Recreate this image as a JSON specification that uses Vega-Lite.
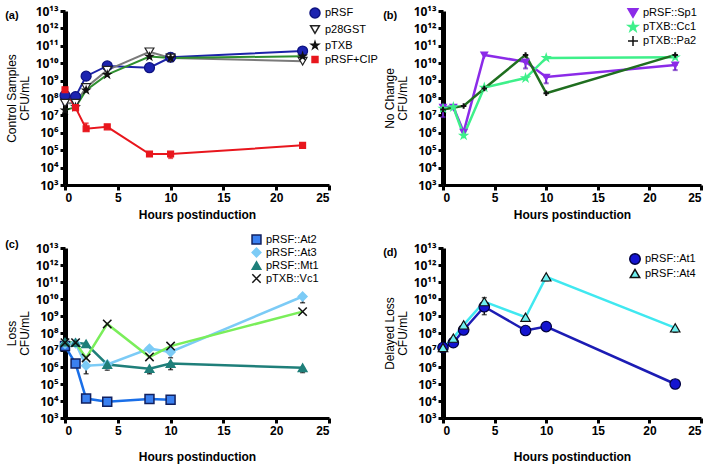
{
"$schema":"https://vega.github.io/schema/vega-lite/v6.json",
"background":"white",
"padding":5,
"datasets":{"d":[
{"p":"a","s":"pRSF","x":0,"y":1.4e8,"lo":4.5e7,"hi":1.4e8},
{"p":"a","s":"pRSF","x":1,"y":1.2e8,"lo":4.5e7,"hi":1.2e8},
{"p":"a","s":"pRSF","x":2,"y":1.8e9},
{"p":"a","s":"pRSF","x":4,"y":7e9},
{"p":"a","s":"pRSF","x":8,"y":5.5e9},
{"p":"a","s":"pRSF","x":10,"y":2.2e10},
{"p":"a","s":"pRSF","x":22.5,"y":5e10,"lo":2.2e10,"hi":5e10},
{"p":"a","s":"p28GST","x":0,"y":5e7},
{"p":"a","s":"p28GST","x":1,"y":5e7},
{"p":"a","s":"p28GST","x":2,"y":4e8},
{"p":"a","s":"p28GST","x":4,"y":4e9},
{"p":"a","s":"p28GST","x":8,"y":4.5e10},
{"p":"a","s":"p28GST","x":10,"y":2e10},
{"p":"a","s":"p28GST","x":22.5,"y":1.3e10},
{"p":"a","s":"pTXB","x":0,"y":2e7},
{"p":"a","s":"pTXB","x":1,"y":3e7},
{"p":"a","s":"pTXB","x":2,"y":2.8e8},
{"p":"a","s":"pTXB","x":4,"y":2.2e9},
{"p":"a","s":"pTXB","x":8,"y":2.4e10},
{"p":"a","s":"pTXB","x":10,"y":2e10},
{"p":"a","s":"pTXB","x":22.5,"y":2.5e10},
{"p":"a","s":"pRSF+CIP","x":0,"y":3e8},
{"p":"a","s":"pRSF+CIP","x":1,"y":2.8e7},
{"p":"a","s":"pRSF+CIP","x":2,"y":1.7e6,"lo":1.7e6,"hi":3.5e6},
{"p":"a","s":"pRSF+CIP","x":4,"y":2.2e6},
{"p":"a","s":"pRSF+CIP","x":8,"y":6e4},
{"p":"a","s":"pRSF+CIP","x":10,"y":6e4,"lo":3.5e4,"hi":6e4},
{"p":"a","s":"pRSF+CIP","x":22.5,"y":1.9e5},
{"p":"b","s":"pRSF::Sp1","x":0,"y":3e7},
{"p":"b","s":"pRSF::Sp1","x":1,"y":3e7},
{"p":"b","s":"pRSF::Sp1","x":2,"y":1.1e6},
{"p":"b","s":"pRSF::Sp1","x":4,"y":3e10},
{"p":"b","s":"pRSF::Sp1","x":8,"y":1.2e10,"lo":5e9,"hi":1.2e10},
{"p":"b","s":"pRSF::Sp1","x":10,"y":1.6e9,"lo":7e8,"hi":1.6e9},
{"p":"b","s":"pRSF::Sp1","x":22.5,"y":8e9,"lo":4e9,"hi":8e9},
{"p":"b","s":"pTXB::Cc1","x":0,"y":2.5e7},
{"p":"b","s":"pTXB::Cc1","x":1,"y":3e7},
{"p":"b","s":"pTXB::Cc1","x":2,"y":7e5},
{"p":"b","s":"pTXB::Cc1","x":4,"y":4e8},
{"p":"b","s":"pTXB::Cc1","x":8,"y":1.4e9},
{"p":"b","s":"pTXB::Cc1","x":10,"y":2e10},
{"p":"b","s":"pTXB::Cc1","x":22.5,"y":2.2e10},
{"p":"b","s":"pTXB::Pa2","x":0,"y":2.2e7,"lo":8e6,"hi":2.2e7},
{"p":"b","s":"pTXB::Pa2","x":2,"y":3.5e7},
{"p":"b","s":"pTXB::Pa2","x":4,"y":3.5e8},
{"p":"b","s":"pTXB::Pa2","x":8,"y":3e10},
{"p":"b","s":"pTXB::Pa2","x":10,"y":1.9e8},
{"p":"b","s":"pTXB::Pa2","x":22.5,"y":3e10},
{"p":"c","s":"pRSF::At2","x":0,"y":1.7e7},
{"p":"c","s":"pRSF::At2","x":1,"y":1.6e6},
{"p":"c","s":"pRSF::At2","x":2,"y":1.4e4},
{"p":"c","s":"pRSF::At2","x":4,"y":9e3},
{"p":"c","s":"pRSF::At2","x":8,"y":1.3e4},
{"p":"c","s":"pRSF::At2","x":10,"y":1.2e4},
{"p":"c","s":"pRSF::At3","x":0,"y":2.3e7},
{"p":"c","s":"pRSF::At3","x":1,"y":2.5e7},
{"p":"c","s":"pRSF::At3","x":2,"y":1.2e6,"lo":4e5,"hi":1.2e6},
{"p":"c","s":"pRSF::At3","x":4,"y":1.4e6},
{"p":"c","s":"pRSF::At3","x":8,"y":1.2e7},
{"p":"c","s":"pRSF::At3","x":10,"y":7.6e6,"lo":3.5e6,"hi":7.6e6},
{"p":"c","s":"pRSF::At3","x":22.5,"y":1.4e10,"lo":6e9,"hi":1.4e10},
{"p":"c","s":"pRSF::Mt1","x":0,"y":2.9e7},
{"p":"c","s":"pRSF::Mt1","x":1,"y":2.7e7},
{"p":"c","s":"pRSF::Mt1","x":2,"y":2.3e7},
{"p":"c","s":"pRSF::Mt1","x":4,"y":1.4e6,"lo":6.5e5,"hi":1.4e6},
{"p":"c","s":"pRSF::Mt1","x":8,"y":8e5,"lo":4e5,"hi":8e5},
{"p":"c","s":"pRSF::Mt1","x":10,"y":1.6e6,"lo":7e5,"hi":1.6e6},
{"p":"c","s":"pRSF::Mt1","x":22.5,"y":9e5,"lo":4.7e5,"hi":9e5},
{"p":"c","s":"pTXB::Vc1","x":0,"y":2.7e7},
{"p":"c","s":"pTXB::Vc1","x":1,"y":2.7e7},
{"p":"c","s":"pTXB::Vc1","x":2,"y":3.4e6},
{"p":"c","s":"pTXB::Vc1","x":4,"y":3.4e8},
{"p":"c","s":"pTXB::Vc1","x":8,"y":3.9e6},
{"p":"c","s":"pTXB::Vc1","x":10,"y":1.7e7},
{"p":"c","s":"pTXB::Vc1","x":22.5,"y":1.8e9},
{"p":"d","s":"pRSF::At1","x":0,"y":1.4e7},
{"p":"d","s":"pRSF::At1","x":1,"y":2.7e7},
{"p":"d","s":"pRSF::At1","x":2,"y":1.5e8},
{"p":"d","s":"pRSF::At1","x":4,"y":3.5e9,"lo":1.2e9,"hi":1.2e10},
{"p":"d","s":"pRSF::At1","x":8,"y":1.4e8},
{"p":"d","s":"pRSF::At1","x":10,"y":2.4e8},
{"p":"d","s":"pRSF::At1","x":22.5,"y":1e5},
{"p":"d","s":"pRSF::At4","x":0,"y":1.4e7},
{"p":"d","s":"pRSF::At4","x":1,"y":5e7},
{"p":"d","s":"pRSF::At4","x":2,"y":3e8},
{"p":"d","s":"pRSF::At4","x":4,"y":7e9},
{"p":"d","s":"pRSF::At4","x":8,"y":8.5e8},
{"p":"d","s":"pRSF::At4","x":10,"y":2e11,"lo":1.2e11,"hi":2e11},
{"p":"d","s":"pRSF::At4","x":22.5,"y":2e8,"lo":1.1e8,"hi":2e8}
]},
"columns":2,
"spacing":{"column":5,"row":14},
"resolve":{"scale":{"color":"independent","fill":"independent","stroke":"independent","shape":"independent","size":"independent"}},
"concat":[
{
"title":{"text":"(a)","offset":-16},
"width":264,"height":174,
"data":{"name":"d"},
"transform":[{"filter":"datum.p=='a'"}],
"encoding":{
 "x":{"field":"x","type":"quantitative","scale":{"domain":[0,25],"nice":false},"axis":{"values":[0,5,10,15,20,25],"title":"Hours postinduction"}},
 "y":{"field":"y","type":"quantitative","scale":{"type":"log","domain":[1000,1e13],"nice":false},"title":["Control Samples","CFU/mL"],"axis":{"values":[1e3,1e4,1e5,1e6,1e7,1e8,1e9,1e10,1e11,1e12,1e13],"labelExpr":"'10' + (round(log(datum.value)/LN10) >= 10 ? '¹' + substring('⁰¹²³⁴⁵⁶⁷⁸⁹', round(log(datum.value)/LN10) - 10, round(log(datum.value)/LN10) - 9) : substring('⁰¹²³⁴⁵⁶⁷⁸⁹', round(log(datum.value)/LN10), round(log(datum.value)/LN10) + 1))"}}
},
"layer":[
 {"mark":{"type":"line","strokeWidth":2,"clip":false},"encoding":{"color":{"field":"s","type":"nominal","scale":{"range":["#7a7a7a","#1c23a8","#e8161d","#2f8f2f"]},"legend":null}}},
 {"transform":[{"filter":"isValid(datum.lo)"}],"mark":{"type":"errorbar","ticks":true,"thickness":2},"encoding":{"y":{"field":"lo","type":"quantitative","title":["Control Samples","CFU/mL"]},"y2":{"field":"hi"},"color":{"field":"s","type":"nominal","legend":null}}},
 {"mark":{"type":"point","filled":true,"opacity":1,"strokeWidth":1.2,"clip":false},"encoding":{
   "fill":{"field":"s","type":"nominal","scale":{"domain":["pRSF","p28GST","pTXB","pRSF+CIP"],"range":["#1c23b0","#ffffff","#111111","#e8161d"]},"legend":{"title":null,"orient":"none","legendX":244,"legendY":-4,"rowPadding":1}},
   "stroke":{"field":"s","type":"nominal","scale":{"domain":["pRSF","p28GST","pTXB","pRSF+CIP"],"range":["#0d1280","#222222","#111111","#e8161d"]},"legend":{"title":null,"orient":"none","legendX":244,"legendY":-4,"rowPadding":1}},
   "shape":{"field":"s","type":"nominal","scale":{"domain":["pRSF","p28GST","pTXB","pRSF+CIP"],"range":["circle","triangle-down","M0,-1L0.2245,-0.309L0.951,-0.309L0.363,0.118L0.588,0.809L0,0.382L-0.588,0.809L-0.363,0.118L-0.951,-0.309L-0.2245,-0.309Z","square"]},"legend":{"title":null,"orient":"none","legendX":244,"legendY":-4,"rowPadding":1}},
   "size":{"field":"s","type":"nominal","scale":{"domain":["pRSF","p28GST","pTXB","pRSF+CIP"],"range":[100,35,45,55]},"legend":{"title":null,"orient":"none","legendX":244,"legendY":-4,"rowPadding":1}}
 }}
]
},
{
"title":{"text":"(b)","offset":-16},
"width":258,"height":174,
"data":{"name":"d"},
"transform":[{"filter":"datum.p=='b'"}],
"encoding":{
 "x":{"field":"x","type":"quantitative","scale":{"domain":[0,25],"nice":false},"axis":{"values":[0,5,10,15,20,25],"title":"Hours postinduction"}},
 "y":{"field":"y","type":"quantitative","scale":{"type":"log","domain":[1000,1e13],"nice":false},"title":["No Change","CFU/mL"],"axis":{"values":[1e3,1e4,1e5,1e6,1e7,1e8,1e9,1e10,1e11,1e12,1e13],"labelExpr":"'10' + (round(log(datum.value)/LN10) >= 10 ? '¹' + substring('⁰¹²³⁴⁵⁶⁷⁸⁹', round(log(datum.value)/LN10) - 10, round(log(datum.value)/LN10) - 9) : substring('⁰¹²³⁴⁵⁶⁷⁸⁹', round(log(datum.value)/LN10), round(log(datum.value)/LN10) + 1))"}}
},
"layer":[
 {"mark":{"type":"line","strokeWidth":2.5,"clip":false},"encoding":{"color":{"field":"s","type":"nominal","scale":{"range":["#8b2be8","#3ef08a","#1f6e1f"]},"legend":null}}},
 {"transform":[{"filter":"isValid(datum.lo)"}],"mark":{"type":"errorbar","ticks":true,"thickness":2,"color":"#6a20c0"},"encoding":{"y":{"field":"lo","type":"quantitative","title":["No Change","CFU/mL"]},"y2":{"field":"hi"}}},
 {"mark":{"type":"point","filled":true,"opacity":1,"strokeWidth":2,"clip":false},"encoding":{
   "fill":{"field":"s","type":"nominal","scale":{"domain":["pRSF::Sp1","pTXB::Cc1","pTXB::Pa2"],"range":["#8b2be8","#3ef08a","#111111"]},"legend":{"title":null,"orient":"none","legendX":184,"legendY":-4,"rowPadding":-3}},
   "stroke":{"field":"s","type":"nominal","scale":{"domain":["pRSF::Sp1","pTXB::Cc1","pTXB::Pa2"],"range":["#8b2be8","#3ef08a","#111111"]},"legend":{"title":null,"orient":"none","legendX":184,"legendY":-4,"rowPadding":-3}},
   "shape":{"field":"s","type":"nominal","scale":{"domain":["pRSF::Sp1","pTXB::Cc1","pTXB::Pa2"],"range":["triangle-down","M0,-1L0.2245,-0.309L0.951,-0.309L0.363,0.118L0.588,0.809L0,0.382L-0.588,0.809L-0.363,0.118L-0.951,-0.309L-0.2245,-0.309Z","M-1,0L1,0M0,-1L0,1"]},"legend":{"title":null,"orient":"none","legendX":184,"legendY":-4,"rowPadding":-3}}
 }}
]
},
{
"title":{"text":"(c)","offset":-16},
"width":264,"height":170,
"data":{"name":"d"},
"transform":[{"filter":"datum.p=='c'"}],
"encoding":{
 "x":{"field":"x","type":"quantitative","scale":{"domain":[0,25],"nice":false},"axis":{"values":[0,5,10,15,20,25],"title":"Hours postinduction","titlePadding":15}},
 "y":{"field":"y","type":"quantitative","scale":{"type":"log","domain":[1000,1e13],"nice":false},"title":["Loss","CFU/mL"],"axis":{"values":[1e3,1e4,1e5,1e6,1e7,1e8,1e9,1e10,1e11,1e12,1e13],"labelExpr":"'10' + (round(log(datum.value)/LN10) >= 10 ? '¹' + substring('⁰¹²³⁴⁵⁶⁷⁸⁹', round(log(datum.value)/LN10) - 10, round(log(datum.value)/LN10) - 9) : substring('⁰¹²³⁴⁵⁶⁷⁸⁹', round(log(datum.value)/LN10), round(log(datum.value)/LN10) + 1))"}}
},
"layer":[
 {"mark":{"type":"line","strokeWidth":2.5,"clip":false},"encoding":{"color":{"field":"s","type":"nominal","scale":{"range":["#1a6fe8","#7ccbf6","#1f7f7a","#7aee5a"]},"legend":null}}},
 {"transform":[{"filter":"isValid(datum.lo)"}],"mark":{"type":"errorbar","ticks":true,"thickness":1.5,"color":"#111111"},"encoding":{"y":{"field":"lo","type":"quantitative","title":["Loss","CFU/mL"]},"y2":{"field":"hi"}}},
 {"mark":{"type":"point","filled":true,"opacity":1,"strokeWidth":1.5,"clip":false},"encoding":{
   "fill":{"field":"s","type":"nominal","scale":{"domain":["pRSF::At2","pRSF::At3","pRSF::Mt1","pTXB::Vc1"],"range":["#3a80f0","#7ccbf6","#1f7f7a","#111111"]},"legend":{"title":null,"orient":"none","legendX":186,"legendY":-14,"rowPadding":-2}},
   "stroke":{"field":"s","type":"nominal","scale":{"domain":["pRSF::At2","pRSF::At3","pRSF::Mt1","pTXB::Vc1"],"range":["#102060","#7ccbf6","#1f7f7a","#111111"]},"legend":{"title":null,"orient":"none","legendX":186,"legendY":-14,"rowPadding":-2}},
   "shape":{"field":"s","type":"nominal","scale":{"domain":["pRSF::At2","pRSF::At3","pRSF::Mt1","pTXB::Vc1"],"range":["square","diamond","triangle-up","M-1,-1L1,1M1,-1L-1,1"]},"legend":{"title":null,"orient":"none","legendX":186,"legendY":-14,"rowPadding":-2}},
   "size":{"field":"s","type":"nominal","scale":{"domain":["pRSF::At2","pRSF::At3","pRSF::Mt1","pTXB::Vc1"],"range":[80,70,70,60]},"legend":{"title":null,"orient":"none","legendX":186,"legendY":-14,"rowPadding":-2}}
 }}
]
},
{
"title":{"text":"(d)","offset":-16},
"width":258,"height":170,
"data":{"name":"d"},
"transform":[{"filter":"datum.p=='d'"}],
"encoding":{
 "x":{"field":"x","type":"quantitative","scale":{"domain":[0,25],"nice":false},"axis":{"values":[0,5,10,15,20,25],"title":"Hours postinduction","titlePadding":15}},
 "y":{"field":"y","type":"quantitative","scale":{"type":"log","domain":[1000,1e13],"nice":false},"title":["Delayed Loss","CFU/mL"],"axis":{"values":[1e3,1e4,1e5,1e6,1e7,1e8,1e9,1e10,1e11,1e12,1e13],"labelExpr":"'10' + (round(log(datum.value)/LN10) >= 10 ? '¹' + substring('⁰¹²³⁴⁵⁶⁷⁸⁹', round(log(datum.value)/LN10) - 10, round(log(datum.value)/LN10) - 9) : substring('⁰¹²³⁴⁵⁶⁷⁸⁹', round(log(datum.value)/LN10), round(log(datum.value)/LN10) + 1))"}}
},
"layer":[
 {"mark":{"type":"line","strokeWidth":2.5,"clip":false},"encoding":{"color":{"field":"s","type":"nominal","scale":{"range":["#1c1cb4","#40e8f0"]},"legend":null}}},
 {"transform":[{"filter":"isValid(datum.lo)"}],"mark":{"type":"errorbar","ticks":true,"thickness":1.5,"color":"#111111"},"encoding":{"y":{"field":"lo","type":"quantitative","title":["Delayed Loss","CFU/mL"]},"y2":{"field":"hi"}}},
 {"mark":{"type":"point","filled":true,"opacity":1,"strokeWidth":1.2,"clip":false},"encoding":{
   "fill":{"field":"s","type":"nominal","scale":{"domain":["pRSF::At1","pRSF::At4"],"range":["#1414d0","#6ff0f0"]},"legend":{"title":null,"orient":"none","legendX":186,"legendY":5,"rowPadding":-2}},
   "stroke":{"field":"s","type":"nominal","scale":{"domain":["pRSF::At1","pRSF::At4"],"range":["#000040","#111111"]},"legend":{"title":null,"orient":"none","legendX":186,"legendY":5,"rowPadding":-2}},
   "shape":{"field":"s","type":"nominal","scale":{"domain":["pRSF::At1","pRSF::At4"],"range":["circle","triangle-up"]},"legend":{"title":null,"orient":"none","legendX":186,"legendY":5,"rowPadding":-2}},
   "size":{"field":"s","type":"nominal","scale":{"domain":["pRSF::At1","pRSF::At4"],"range":[110,90]},"legend":{"title":null,"orient":"none","legendX":186,"legendY":5,"rowPadding":-2}}
 }}
]
}
],
"config":{
 "font":"Liberation Sans",
 "view":{"stroke":null},
 "axis":{"grid":false,"domainColor":"#000","domainWidth":3,"tickColor":"#000","tickWidth":3,"tickSize":5,"labelFontSize":13,"labelFontWeight":"bold","labelColor":"#000","titleColor":"#000","labelFont":"Noto Sans","titleFont":"Liberation Sans"},
 "axisY":{"domainWidth":5,"titleFontWeight":"normal","titleFontSize":12,"labelPadding":2,"titlePadding":4,"titleLineHeight":13,"labelFontSize":12},
 "axisX":{"titleFontWeight":"bold","titleFontSize":12,"titlePadding":6,"labelPadding":2,"labelFontSize":12,"labelFont":"Liberation Sans"},
 "legend":{"labelFontSize":11,"labelFont":"Liberation Sans","labelColor":"#000","padding":0,"symbolStrokeWidth":1.5,"symbolOpacity":1},
 "title":{"anchor":"start","frame":"bounds","fontSize":11,"fontWeight":"bold","font":"Liberation Sans","color":"#000"}
}
}
